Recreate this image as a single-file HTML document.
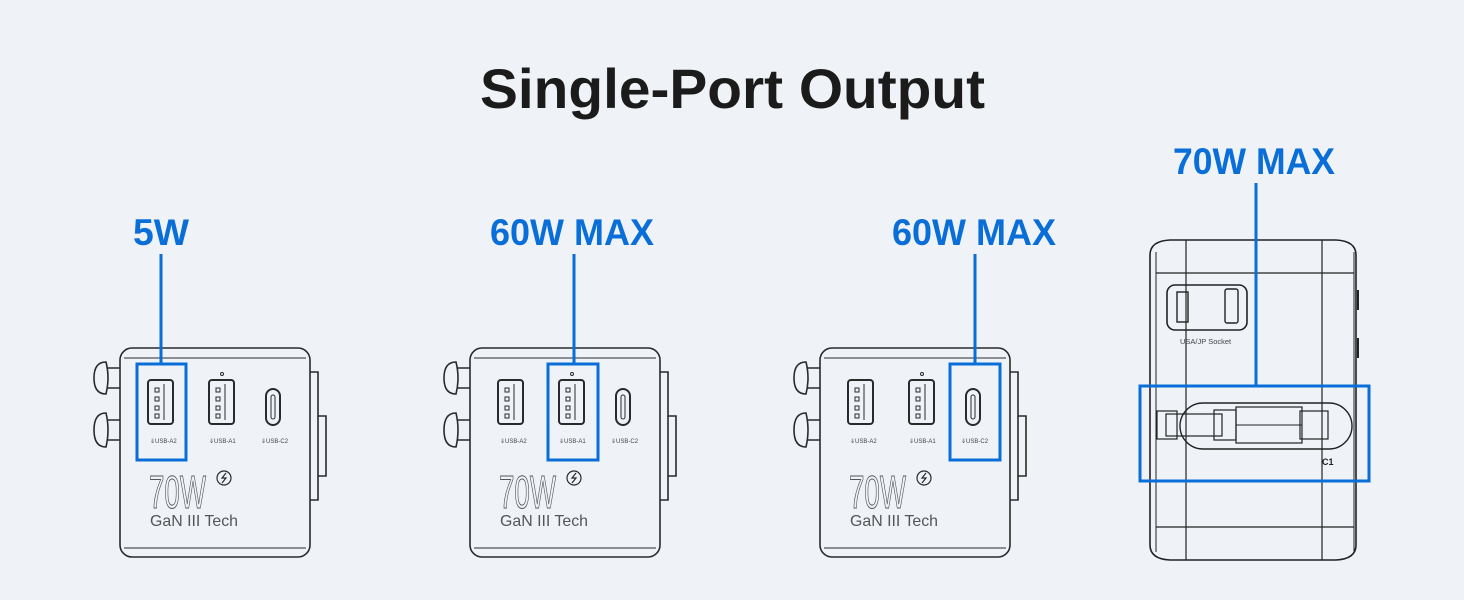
<!DOCTYPE html>
<html><head><meta charset="utf-8"><style>
html,body{margin:0;padding:0;background:#eff3f8;}
svg{display:block;}
text{font-family:"Liberation Sans",sans-serif;}
</style></head><body>
<svg width="1464" height="600" viewBox="0 0 1464 600" xmlns="http://www.w3.org/2000/svg">
<rect width="1464" height="600" fill="#eff3f8"/>
<text x="480" y="108" font-size="56" font-weight="bold" fill="#1b1b1b" textLength="505" lengthAdjust="spacingAndGlyphs">Single-Port Output</text>

<defs>
<g id="chg" fill="none" stroke="#2a2a2a" stroke-width="1.6">
  <!-- knobs -->
  <path d="M120 368 h-14 M120 388 h-14" />
  <path d="M106 362 q-12 0 -12 16 q0 16 12 16 q4 -16 0 -32z" fill="#eff3f8"/>
  <path d="M120 420 h-14 M120 440 h-14" />
  <path d="M106 413 q-12 0 -12 17 q0 17 12 17 q4 -17 0 -34z" fill="#eff3f8"/>
  <!-- right side -->
  <path d="M310 372 h8 v44 h8 v60 h-8 v24 h-8" />
  <path d="M318 416 v60" />
  <!-- body -->
  <rect x="120" y="348" width="190" height="209" rx="12" fill="#eff3f8"/>
  <path d="M124 358 h182 M124 548 h182" stroke-width="1"/>
  <!-- USB-A2 -->
  <rect x="148" y="380" width="25" height="44" rx="3" stroke-width="2"/>
  <path d="M164 384 v36" stroke-width="1"/>
  <path d="M155 388 h4 v4 h-4z M155 397 h4 v4 h-4z M155 406 h4 v4 h-4z M155 414 h4 v4 h-4z" stroke-width="1"/>
  <!-- USB-A1 -->
  <circle cx="222" cy="374" r="1.5" stroke-width="1"/>
  <rect x="209" y="380" width="25" height="44" rx="3" stroke-width="2"/>
  <path d="M225 384 v36" stroke-width="1"/>
  <path d="M216 388 h4 v4 h-4z M216 397 h4 v4 h-4z M216 406 h4 v4 h-4z M216 414 h4 v4 h-4z" stroke-width="1"/>
  <!-- USB-C -->
  <rect x="266" y="389" width="14" height="36" rx="7" stroke-width="2"/>
  <rect x="271" y="395" width="4" height="24" rx="2" stroke-width="1"/>
  <!-- lightning circle -->
  <circle cx="224" cy="478" r="7" stroke-width="1.2"/>
  <path d="M226 473 l-4 5 h4 l-4 5" stroke-width="1.2"/>
</g>
<g id="chgtext">
  <text x="150" y="443" font-size="6" fill="#444">⇓USB-A2</text>
  <text x="209" y="443" font-size="6" fill="#444">⇓USB-A1</text>
  <text x="261" y="443" font-size="6" fill="#444">⇓USB-C2</text>
  <text x="149" y="508" font-size="46" fill="none" stroke="#555" stroke-width="1" textLength="57" lengthAdjust="spacingAndGlyphs">70W</text>
  <text x="150" y="526" font-size="16" fill="#555" textLength="88" lengthAdjust="spacingAndGlyphs">GaN III Tech</text>
</g>
</defs>

<use href="#chg"/><use href="#chgtext"/>
<g transform="translate(350,0)"><use href="#chg"/><use href="#chgtext"/></g>
<g transform="translate(700,0)"><use href="#chg"/><use href="#chgtext"/></g>

<!-- device 4 -->
<g fill="none" stroke="#222" stroke-width="1.6">
  <path d="M1150 255 q0 -14 20 -15 h166 q20 1 20 15 v290 q0 14 -20 15 h-166 q-20 -1 -20 -15z" fill="#eff3f8"/>
  <path d="M1156 252 v300 M1354 252 v300" stroke-width="1"/>
  <path d="M1186 240 v320 M1322 240 v320" stroke-width="1.2"/>
  <path d="M1156 273 h198 M1156 527 h198" stroke-width="1.2"/>
  <path d="M1358 290 v20 M1358 338 v20" stroke-width="2"/>
  <rect x="1167" y="285" width="80" height="45" rx="8" stroke-width="1.6"/>
  <rect x="1177" y="292" width="11" height="30" stroke-width="1.4"/>
  <rect x="1225" y="289" width="13" height="34" rx="2" stroke-width="1.4"/>
  <rect x="1180" y="403" width="172" height="46" rx="23" stroke-width="1.4"/>
  <rect x="1157" y="411" width="20" height="28" stroke-width="1.2"/>
  <rect x="1166" y="414" width="56" height="22" stroke-width="1.2"/>
  <rect x="1214" y="410" width="22" height="30" stroke-width="1.2"/>
  <rect x="1236" y="407" width="66" height="36" stroke-width="1.2"/>
  <rect x="1300" y="411" width="28" height="28" stroke-width="1.2"/>
  <path d="M1236 425 h66" stroke-width="1"/>
</g>
<text x="1180" y="344" font-size="7.5" fill="#444">USA/JP Socket</text>
<text x="1322" y="465" font-size="9" font-weight="bold" fill="#222">C1</text>

<!-- blue highlights -->
<g fill="none" stroke="#0a6ed8" stroke-width="3">
  <rect x="137" y="364" width="49" height="96"/>
  <rect x="548" y="364" width="50" height="96"/>
  <rect x="950" y="364" width="50" height="96"/>
  <rect x="1140" y="386" width="229" height="95"/>
  <path d="M161 254 V364 M574 254 V364 M975 254 V364 M1256 183 V386"/>
</g>
<g fill="#0a6ed8" font-size="37" font-weight="bold">
  <text x="133" y="245" textLength="56" lengthAdjust="spacingAndGlyphs">5W</text>
  <text x="490" y="245" textLength="164" lengthAdjust="spacingAndGlyphs">60W MAX</text>
  <text x="892" y="245" textLength="164" lengthAdjust="spacingAndGlyphs">60W MAX</text>
  <text x="1173" y="174" textLength="162" lengthAdjust="spacingAndGlyphs">70W MAX</text>
</g>
</svg>
</body></html>
